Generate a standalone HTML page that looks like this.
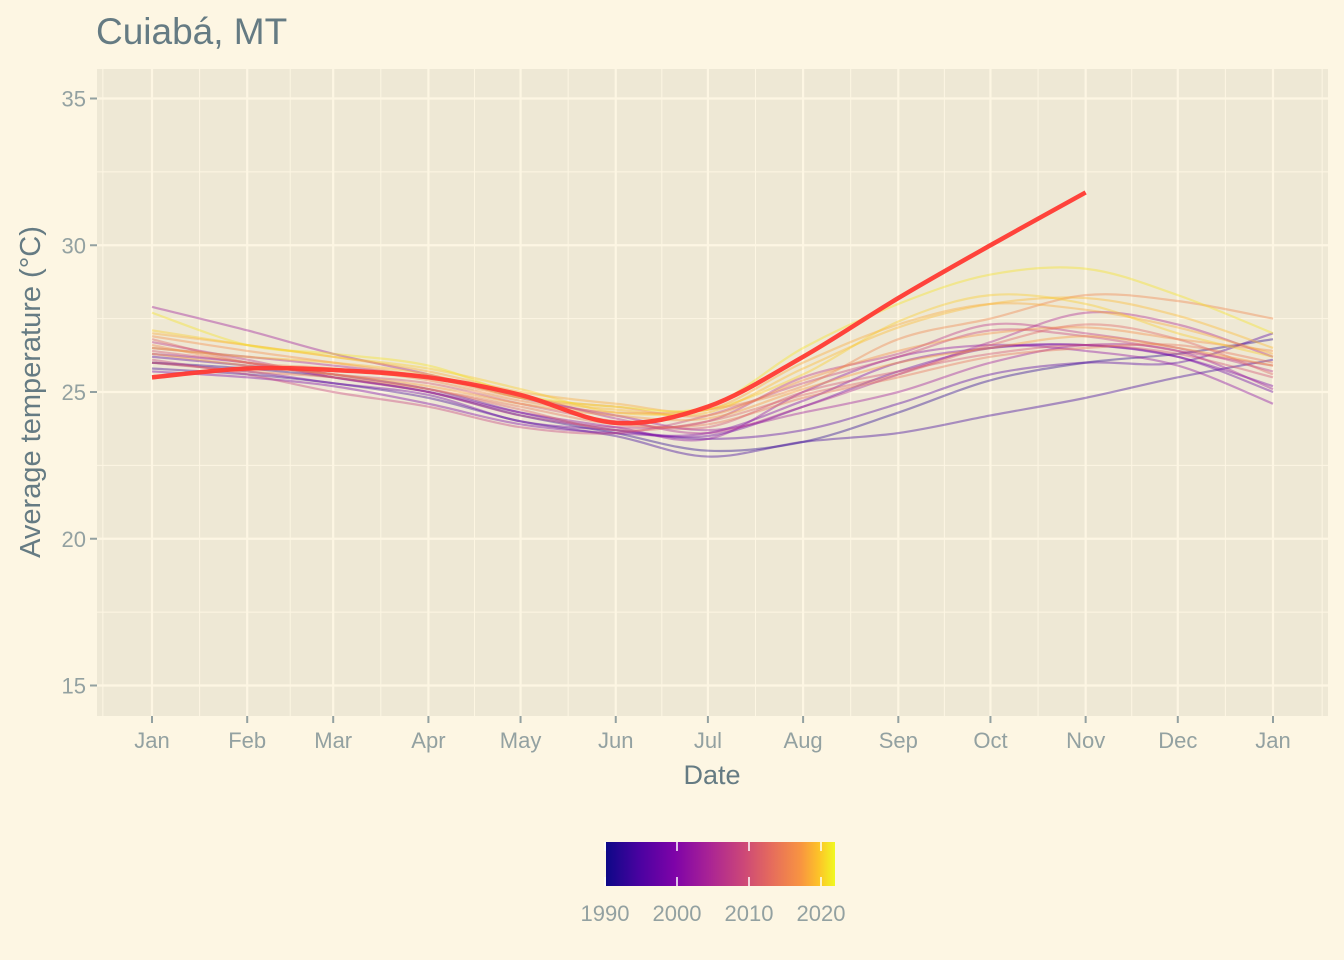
<!DOCTYPE html>
<html><head><meta charset="utf-8">
<style>
html,body{margin:0;padding:0;background:#FDF6E3;}
svg{display:block;font-family:"Liberation Sans",sans-serif;}
</style></head>
<body>
<svg id="chart" width="1344" height="960" viewBox="0 0 1344 960">
  <rect x="0" y="0" width="1344" height="960" fill="#FDF6E3"/>
  <text x="96" y="44" font-size="37" fill="#657B83">Cuiabá, MT</text>
  <rect x="97" y="69" width="1231" height="647" fill="#EEE8D5"/>
  <g id="grid"></g>
  <g id="lines"></g>
  <g id="axes"></g>
  <text transform="translate(40,392) rotate(-90)" text-anchor="middle" font-size="29" fill="#657B83">Average temperature (°C)</text>
  <text x="712" y="784" text-anchor="middle" font-size="27" fill="#657B83">Date</text>
  <defs>
    <linearGradient id="plasma" x1="0" x2="1" y1="0" y2="0">
      <stop offset="0" stop-color="#0D0887"/>
      <stop offset="0.15" stop-color="#4C02A1"/>
      <stop offset="0.3" stop-color="#7E03A8"/>
      <stop offset="0.45" stop-color="#A92395"/>
      <stop offset="0.6" stop-color="#CC4778"/>
      <stop offset="0.72" stop-color="#E56B5D"/>
      <stop offset="0.85" stop-color="#F89441"/>
      <stop offset="0.93" stop-color="#FDC328"/>
      <stop offset="1" stop-color="#F0F921"/>
    </linearGradient>
  </defs>
  <rect x="606" y="842" width="229" height="44" fill="url(#plasma)"/>
  <g id="legend"></g>
</svg>
<script>
const months=["Jan","Feb","Mar","Apr","May","Jun","Jul","Aug","Sep","Oct","Nov","Dec","Jan"];
const monthDays=[0,31,59,90,120,151,181,212,243,273,304,334,365];
const yTicks=[15,20,25,30,35];
const legendYears=[1990,2000,2010,2020];
const years=[1990,1992,1994,1996,1998,2000,2002,2004,2006,2008,2010,2012,2014,2016,2017,2018,2019,2020,2021,2022];
const temps=[
[26.0,25.8,25.5,25.0,24.2,23.6,23.0,23.3,24.3,25.4,26.0,26.3,26.8],
[25.8,25.6,25.3,24.8,24.0,23.5,22.8,23.3,23.6,24.2,24.8,25.5,26.1],
[26.2,25.9,25.6,25.1,24.3,23.7,23.4,23.7,24.6,25.6,26.0,26.0,27.0],
[26.0,25.7,25.3,24.9,24.0,23.7,23.5,24.5,25.7,26.5,26.6,26.2,25.0],
[25.7,25.5,25.2,24.6,23.9,23.6,23.6,24.7,26.0,26.5,26.6,26.2,25.2],
[26.3,26.0,25.5,25.0,24.3,23.8,23.4,25.0,26.2,26.6,26.4,25.9,24.6],
[27.9,27.1,26.3,25.6,24.8,24.2,23.7,24.3,25.0,26.0,26.6,26.4,25.1],
[26.5,26.2,25.9,25.5,24.9,24.1,23.6,24.5,25.6,26.7,27.7,27.3,26.2],
[26.7,26.1,25.5,25.0,24.2,23.8,24.0,25.5,26.3,27.3,27.0,26.5,25.7],
[26.1,25.6,25.0,24.5,23.8,23.6,24.2,25.3,26.2,27.1,26.9,26.4,25.9],
[26.4,26.0,25.6,25.3,24.6,24.0,23.8,25.0,25.7,26.3,26.6,26.3,25.5],
[26.8,26.0,25.6,25.1,24.4,23.7,24.0,24.9,25.6,26.6,27.3,26.8,25.6],
[26.0,25.7,25.5,25.1,24.5,23.9,23.9,24.8,25.5,26.2,26.5,26.6,26.0],
[26.6,26.0,25.8,25.4,24.7,24.3,24.4,25.2,26.8,27.5,28.3,28.1,27.5],
[26.9,26.4,26.0,25.5,24.8,24.5,24.2,25.4,26.4,27.0,27.2,26.8,26.4],
[26.3,25.9,25.6,25.2,24.6,24.2,24.1,25.1,26.0,26.5,26.9,26.5,25.9],
[27.0,26.6,26.2,25.7,25.0,24.6,24.4,26.0,27.3,28.0,27.8,27.2,26.3],
[26.5,26.2,26.0,25.6,24.8,24.4,24.3,25.8,27.2,28.0,28.2,27.6,26.5],
[27.1,26.6,26.2,25.8,25.1,24.3,24.4,25.6,27.4,28.3,28.0,27.0,26.2],
[27.7,26.6,26.3,25.9,24.9,24.5,24.5,26.5,28.0,29.0,29.2,28.3,27.0]
];
const currentTemps=[25.5,25.8,25.75,25.5,24.9,23.95,24.5,26.2,28.2,30.0,31.8];

const NS="http://www.w3.org/2000/svg";
const X=d=>152+d*(1273-152)/365;
const Y=t=>392-(t-25)*29.35;
const yearX=yr=>605+(yr-1990)*7.2;
function mk(tag,attrs,parent){const e=document.createElementNS(NS,tag);for(const k in attrs)e.setAttribute(k,attrs[k]);parent.appendChild(e);return e;}
const plasmaStops=[[0,[13,8,135]],[0.15,[76,2,161]],[0.3,[126,3,168]],[0.45,[169,35,149]],[0.6,[204,71,120]],[0.72,[229,107,93]],[0.85,[248,148,65]],[0.93,[253,195,40]],[1,[240,249,33]]];
function plasma(t){t=Math.max(0,Math.min(1,t));for(let i=1;i<plasmaStops.length;i++){const [a,ca]=plasmaStops[i-1],[b,cb]=plasmaStops[i];if(t<=b){const f=(t-a)/(b-a);return `rgb(${ca.map((c,j)=>Math.round(c+(cb[j]-c)*f)).join(",")})`;}}return "rgb(240,249,33)";}
function smoothPath(pts){let d=`M${pts[0][0]},${pts[0][1]}`;for(let i=0;i<pts.length-1;i++){const p0=pts[i-1]||pts[i],p1=pts[i],p2=pts[i+1],p3=pts[i+2]||p2;const c1=[p1[0]+(p2[0]-p0[0])/6,p1[1]+(p2[1]-p0[1])/6],c2=[p2[0]-(p3[0]-p1[0])/6,p2[1]-(p3[1]-p1[1])/6];d+=`C${c1[0]},${c1[1]} ${c2[0]},${c2[1]} ${p2[0]},${p2[1]}`;}return d;}

const grid=document.getElementById('grid');
[17.5,22.5,27.5,32.5].forEach(t=>{const l=mk('line',{x1:97,x2:1328,y1:Y(t),y2:Y(t),stroke:'#FDF6E3','stroke-width':1},grid);

});
for(let i=0;i<monthDays.length-1;i++){const xm=X((monthDays[i]+monthDays[i+1])/2);const l=mk('line',{x1:xm,x2:xm,y1:69,y2:716,stroke:'#FDF6E3','stroke-width':1},grid);

}
[X(-16),X(381)].forEach(xm=>{const l=mk('line',{x1:xm,x2:xm,y1:69,y2:716,stroke:'#FDF6E3','stroke-width':1},grid);

});
const axes=document.getElementById('axes');
yTicks.forEach(t=>{const l=mk('line',{x1:97,x2:1328,y1:Y(t),y2:Y(t),stroke:'#FDF6E3','stroke-width':2.2},grid);


const tk=mk('line',{x1:90,x2:97,y1:Y(t),y2:Y(t),stroke:'#93A1A1','stroke-width':2},axes);


const tx=mk('text',{x:86,y:Y(t)+8,'text-anchor':'end','font-size':22,fill:'#93A1A1'},axes);tx.textContent=t;

});
months.forEach((m,i)=>{const x=X(monthDays[i]);const l=mk('line',{x1:x,x2:x,y1:69,y2:716,stroke:'#FDF6E3','stroke-width':2.2},grid);


const tk=mk('line',{x1:x,x2:x,y1:716,y2:723,stroke:'#93A1A1','stroke-width':2},axes);


const tx=mk('text',{x:x,y:748,'text-anchor':'middle','font-size':22,fill:'#93A1A1'},axes);tx.textContent=m;

});

const lines=document.getElementById('lines');
years.forEach((yr,i)=>{const pts=temps[i].map((t,j)=>[X(monthDays[j]),Y(t)]);
const p=mk('path',{d:smoothPath(pts),fill:'none',stroke:plasma((yr-1988)/(2023-1988)),'stroke-width':2.2,'stroke-opacity':0.4},lines);

});
const cp=currentTemps.map((t,j)=>[X(monthDays[j]),Y(t)]);
const cur=mk('path',{d:smoothPath(cp),fill:'none',stroke:'#FF3A33','stroke-width':4.5,'stroke-opacity':0.95},lines);



const legend=document.getElementById('legend');
legendYears.forEach(yr=>{const x=yearX(yr);
const a=mk('line',{x1:x,x2:x,y1:842,y2:851,stroke:'#FFFFFF','stroke-width':1.5},legend);


const b=mk('line',{x1:x,x2:x,y1:877,y2:886,stroke:'#FFFFFF','stroke-width':1.5},legend);


const tx=mk('text',{x:x,y:921,'text-anchor':'middle','font-size':22,fill:'#93A1A1'},legend);tx.textContent=yr;

});
</script>
</body></html>
